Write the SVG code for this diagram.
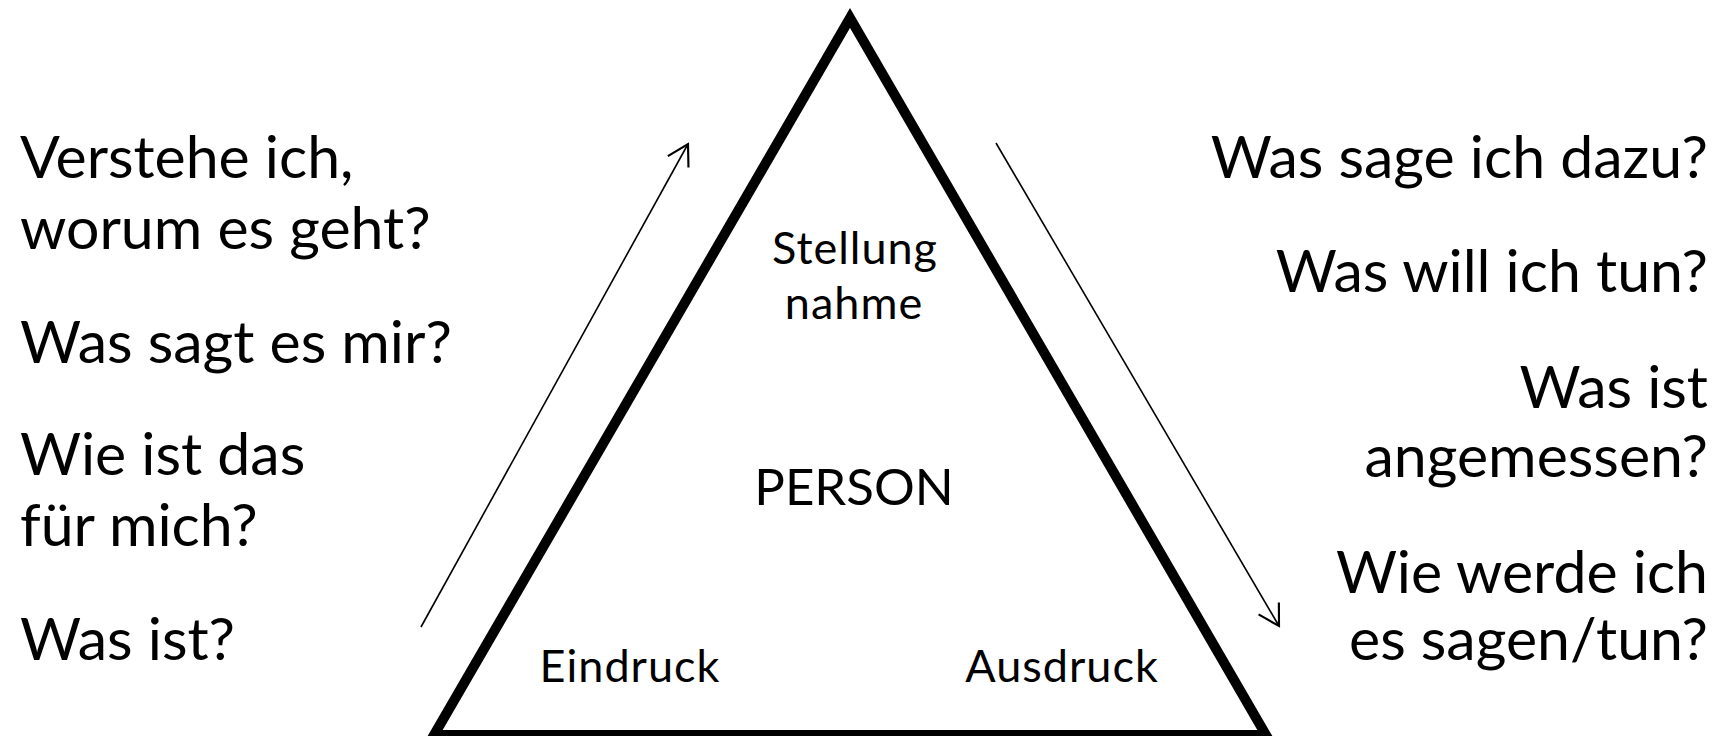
<svg xmlns="http://www.w3.org/2000/svg" width="1722" height="736" viewBox="0 0 1722 736">
<style>
.q{font-family:Lato,"Open Sans",sans-serif;font-size:59px;fill:#000}
.l{font-family:Lato,"Open Sans",sans-serif;font-size:45px;fill:#000;text-anchor:middle;letter-spacing:1px}
.r{text-anchor:end}
.con{fill:none;stroke:#000;stroke-width:1.6}
</style>
<defs>
<marker id="open" markerUnits="userSpaceOnUse" markerWidth="30" markerHeight="30" viewBox="-24 -14 28 28" refX="0" refY="0" orient="auto">
<path d="M-19,-11 L0,0 L-19,11" fill="none" stroke="#000" stroke-width="2"/>
</marker>
</defs>
<rect width="1722" height="736" fill="#fff"/>
<g id="triangle">
<polygon points="850,18 434,735 1266,735" fill="none" stroke="#000" stroke-width="10" stroke-linejoin="miter"/>
<text class="l" x="855" y="264">Stellung</text>
<text class="l" x="854" y="319">nahme</text>
<text class="l" x="854" y="505" style="font-size:51px;letter-spacing:0">PERSON</text>
<text class="l" x="630" y="682">Eindruck</text>
<text class="l" x="1062" y="682">Ausdruck</text>
</g>
<g id="connectors">
<line class="con" x1="421" y1="627" x2="688" y2="144" marker-end="url(#open)"/>
<line class="con" x1="996" y1="143" x2="1279" y2="626" marker-end="url(#open)"/>
</g>
<g id="left-questions">
<text class="q" x="20" y="178">Verstehe ich,</text>
<text class="q" x="20" y="249">worum es geht?</text>
<text class="q" x="20" y="363">Was sagt es mir?</text>
<text class="q" x="20" y="475">Wie ist das</text>
<text class="q" x="20" y="546">für mich?</text>
<text class="q" x="20" y="660">Was ist?</text>
</g>
<g id="right-questions">
<text class="q r" x="1708" y="178">Was sage ich dazu?</text>
<text class="q r" x="1708" y="292">Was will ich tun?</text>
<text class="q r" x="1708" y="408">Was ist</text>
<text class="q r" x="1708" y="477">angemessen?</text>
<text class="q r" x="1708" y="593">Wie werde ich</text>
<text class="q r" x="1708" y="660">es sagen/tun?</text>
</g>
</svg>
